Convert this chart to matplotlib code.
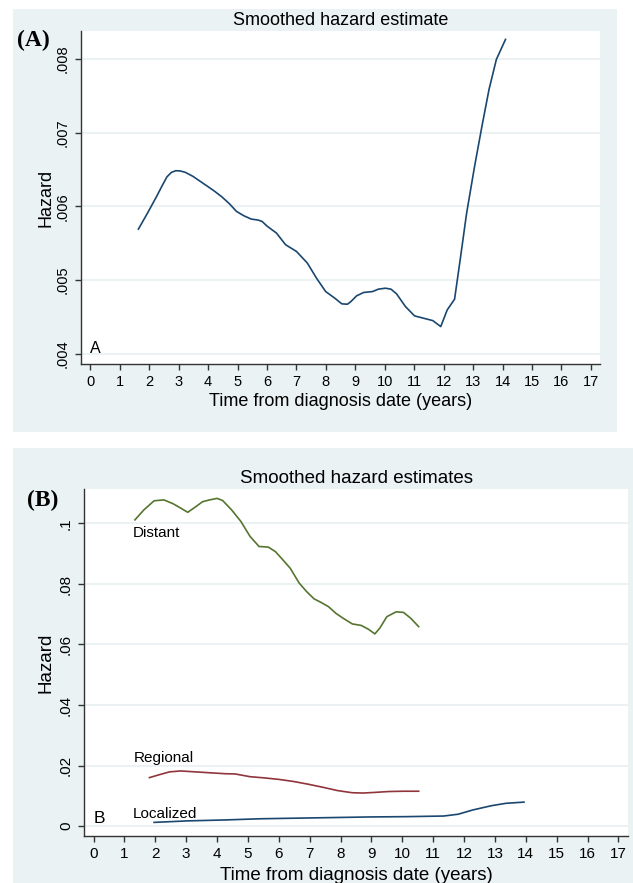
import numpy as np
import matplotlib.pyplot as plt
from matplotlib.patches import Rectangle
from matplotlib.ticker import FuncFormatter

# overall smoothed hazard (panel A)
years_all = [1.63, 1.94, 2.25, 2.45, 2.60, 2.75, 2.90, 3.05, 3.23, 3.48, 3.73, 3.98,
             4.22, 4.47, 4.72, 4.96, 5.21, 5.46, 5.70, 5.83, 6.01, 6.32, 6.63, 7.00,
             7.37, 7.68, 7.99, 8.30, 8.54, 8.73, 8.85, 9.04, 9.28, 9.59, 9.78, 10.02,
             10.21, 10.40, 10.70, 11.01, 11.32, 11.63, 11.90, 12.12, 12.37, 12.56, 12.78,
             13.05, 13.30, 13.54, 13.79, 14.10]
hazard_all = [.005692, .005909, .006136, .006290, .006400, .006460, .006483, .006480,
              .006460, .006407, .006339, .006271, .006204, .006127, .006036, .005932,
              .005873, .005828, .005814, .005796, .005729, .005638, .005480, .005389,
              .005231, .005027, .004846, .004756, .004679, .004674, .004710, .004787,
              .004833, .004846, .004878, .004891, .004878, .004814, .004643, .004516,
              .004484, .004452, .004371, .004597, .004742, .005276, .005910, .006543,
              .007086, .007584, .007991, .008262]

# hazard by stage (panel B)
years_distant = [1.34, 1.63, 1.96, 2.28, 2.58, 2.82, 3.05, 3.29, 3.53, 3.76, 4.00, 4.18,
                 4.47, 4.77, 5.07, 5.36, 5.66, 5.89, 6.13, 6.37, 6.66, 6.90, 7.14, 7.37,
                 7.61, 7.85, 8.08, 8.38, 8.67, 8.91, 9.11, 9.27, 9.50, 9.80, 10.04, 10.27,
                 10.53]
hazard_distant = [.1012, .1045, .1075, .1078, .1065, .1051, .1037, .1054, .1072, .1078,
                  .1083, .1076, .1045, .1007, .0957, .0924, .0922, .0907, .0880, .0852,
                  .0803, .0775, .0751, .0739, .0725, .0703, .0687, .0668, .0663, .0650,
                  .0635, .0654, .0692, .0708, .0706, .0687, .0659]

years_regional = [1.81, 2.11, 2.46, 2.82, 3.29, 3.76, 4.24, 4.59, 5.07, 5.54, 6.01, 6.49,
                  6.96, 7.43, 7.91, 8.38, 8.73, 9.09, 9.56, 10.04, 10.53]
hazard_regional = [.0160, .0169, .0179, .0182, .0179, .0176, .0173, .0172, .0163, .0159,
                   .0154, .0147, .0138, .0128, .0117, .0110, .0109, .0111, .0114, .0115,
                   .0115]

years_local = [1.96, 3.05, 4.24, 5.42, 6.60, 7.79, 8.97, 10.15, 11.34, 11.81, 12.28,
               12.88, 13.35, 13.94]
hazard_local = [.0012, .0017, .0020, .0024, .0026, .0028, .0030, .0031, .0033, .0039,
                .0053, .0067, .0075, .0079]

NAVY = "#1a476f"
MAROON = "#90353b"
GREEN = "#55752f"
BG = "#eaf2f3"
AXC = "#333333"

plt.rcParams["font.family"] = ["Liberation Sans", "DejaVu Sans"]

fig = plt.figure(figsize=(6.33, 8.83), dpi=100)
fig.patch.set_facecolor("white")

# graph region backgrounds, on an axes kept behind the plots
bg = fig.add_axes([0, 0, 1, 1], zorder=-5)
bg.set_axis_off()
bg.set_xlim(0, 633)
bg.set_ylim(883, 0)
bg.add_patch(Rectangle((13, 9), 604, 423, color=BG, lw=0))
bg.add_patch(Rectangle((13, 448), 640, 450, color=BG, lw=0))


def stata_fmt(v, pos):
    if abs(v) < 1e-12:
        return "0"
    s = f"{v:g}"
    return s.replace("0.", ".", 1)


def style_axes(ax, fs):
    ax.set_facecolor("white")
    for side in ("top", "right"):
        ax.spines[side].set_visible(False)
    for side in ("left", "bottom"):
        ax.spines[side].set_color(AXC)
        ax.spines[side].set_linewidth(1.0)
    ax.tick_params(direction="out", length=4, width=1.0, color=AXC,
                   labelsize=fs, pad=4)
    ax.set_xticks(range(0, 18))
    ax.yaxis.set_major_formatter(FuncFormatter(stata_fmt))
    for lab in ax.get_yticklabels():
        lab.set_rotation(90)
        lab.set_va("center")
    ax.grid(axis="y", color=BG, linewidth=1.4)
    ax.set_axisbelow(True)


# panel A
ax1 = fig.add_axes([81 / 633, 1 - 364 / 883, 519 / 633, 333 / 883])
ax1.plot(years_all, hazard_all, color=NAVY, lw=1.2)
ax1.set_xlim(-0.32, 17.31)
ax1.set_ylim(0.003864, 0.008376)
ax1.set_yticks([0.004, 0.005, 0.006, 0.007, 0.008])
style_axes(ax1, 10.5)
ax1.set_title("Smoothed hazard estimate", fontsize=13, pad=4)
ax1.set_xlabel("Time from diagnosis date (years)", fontsize=13, labelpad=3)
ax1.set_ylabel("Hazard", fontsize=13, labelpad=1)
ax1.text(-0.03, 0.00401, "A", fontsize=11.5, ha="left", va="baseline")
fig.text(17 / 633, 1 - 40 / 883, "(A)", family="Liberation Serif", weight="bold",
         fontsize=17, ha="left", va="center")

# panel B
ax2 = fig.add_axes([84 / 633, 1 - 836 / 883, 544 / 633, 347 / 883])
ax2.plot(years_distant, hazard_distant, color=GREEN, lw=1.2)
ax2.plot(years_regional, hazard_regional, color=MAROON, lw=1.2)
ax2.plot(years_local, hazard_local, color=NAVY, lw=1.2)
ax2.set_xlim(-0.31, 17.31)
ax2.set_ylim(-0.0033, 0.1114)
ax2.set_yticks([0, 0.02, 0.04, 0.06, 0.08, 0.1])
style_axes(ax2, 11)
ax2.set_title("Smoothed hazard estimates", fontsize=13.5, pad=4)
ax2.set_xlabel("Time from diagnosis date (years)", fontsize=13.5, labelpad=4)
ax2.set_ylabel("Hazard", fontsize=13.5, labelpad=3)
ax2.text(1.28, 0.0954, "Distant", fontsize=11, ha="left", va="baseline")
ax2.text(1.31, 0.0213, "Regional", fontsize=11, ha="left", va="baseline")
ax2.text(1.28, 0.00265, "Localized", fontsize=11, ha="left", va="baseline")
ax2.text(0.0, 0.001, "B", fontsize=12.5, ha="left", va="baseline")
fig.text(27 / 633, 1 - 500 / 883, "(B)", family="Liberation Serif", weight="bold",
         fontsize=17, ha="left", va="center")

fig.savefig("out.png", dpi=100)
